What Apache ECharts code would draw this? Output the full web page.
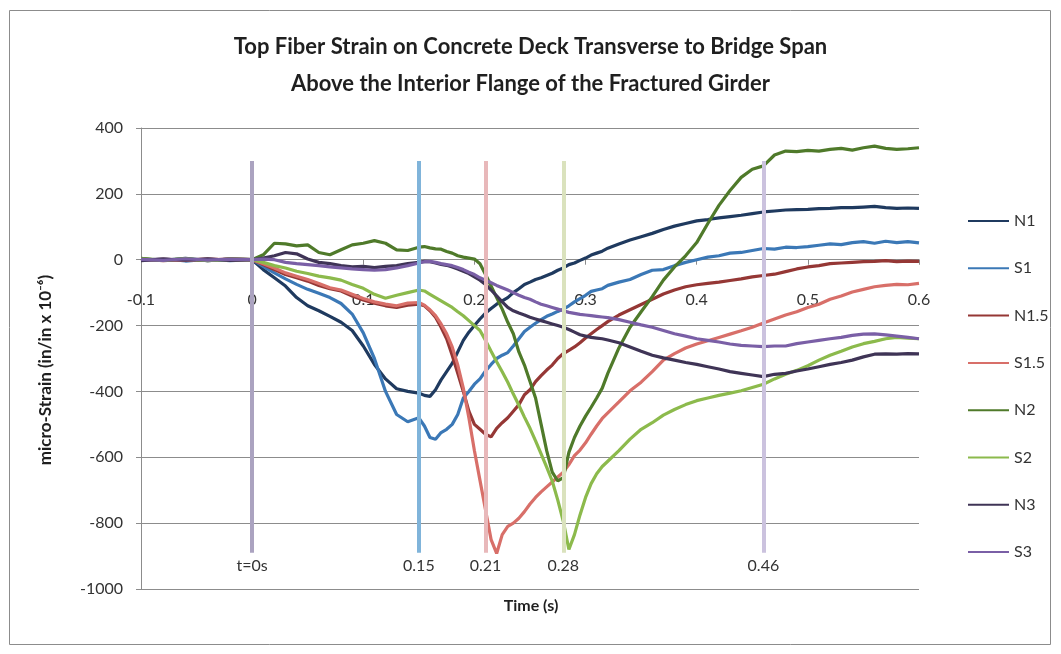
<!DOCTYPE html>
<html>
<head>
<meta charset="utf-8">
<title>Top Fiber Strain on Concrete Deck</title>
<script src="https://cdn.jsdelivr.net/npm/echarts@6/dist/echarts.min.js"></script>
<style>
  html, body { margin: 0; padding: 0; background: #ffffff; }
  #chart { width: 1061px; height: 654px; }
</style>
</head>
<body>
<div id="chart"></div>
<script>
// Sample times (s)
const time = [
  -0.1, -0.08, -0.06, -0.04, -0.02, 0,
  0.01, 0.02, 0.03, 0.04, 0.05, 0.06, 0.07, 0.08, 0.09, 0.10, 0.11, 0.12, 0.13, 0.14, 0.15,
  0.155, 0.16, 0.165, 0.17, 0.175, 0.18, 0.185, 0.19, 0.195, 0.20, 0.205, 0.21, 0.215, 0.22, 0.225,
  0.23, 0.235, 0.24, 0.245, 0.25, 0.255, 0.26, 0.265, 0.27, 0.275, 0.28, 0.285, 0.29, 0.295, 0.30,
  0.305, 0.31, 0.315, 0.32,
  0.33, 0.34, 0.35, 0.36, 0.37, 0.38, 0.39, 0.40, 0.41, 0.42, 0.43, 0.44, 0.45, 0.46, 0.47, 0.48,
  0.49, 0.50, 0.51, 0.52, 0.53, 0.54, 0.55, 0.56, 0.57, 0.58, 0.59, 0.60
];

// Micro-strain readings per gauge, one value per sample time
const N1 = [
  3, -2, 4, -3, 2, 0,
  -30, -55, -80, -115, -140, -155, -172, -190, -215, -262, -318, -362, -392, -400, -405,
  -412, -415, -395, -365, -340, -315, -280, -245, -220, -200, -180, -162, -148, -135, -125,
  -115, -100, -88, -75, -68, -60, -55, -48, -41, -32, -25, -15, -10, -2, 5, 14, 20, 26, 35,
  48, 60, 70, 80, 92, 102, 110, 118, 122, 127, 131, 135, 140, 145, 148, 151,
  152, 153, 155, 156, 158, 158, 160, 162, 158, 156, 157, 156
];
const S1 = [
  -2, 3, -4, 2, -3, 0,
  -20, -40, -58, -75, -90, -102, -115, -133, -165, -222, -300, -400, -470, -492, -480,
  -505, -540, -545, -525, -515, -500, -470, -420, -400, -378, -362, -338, -318, -300, -290,
  -282, -262, -240, -218, -205, -193, -182, -172, -165, -157, -150, -140, -128, -118, -108,
  -96, -92, -88, -78,
  -68, -60, -45, -32, -30, -18, -8, 0, 8, 12, 20, 22, 28, 34, 32, 38,
  37, 40, 44, 48, 46, 52, 55, 50, 56, 52, 55, 51
];
const N1_5 = [
  2, -3, 1, -2, 3, 0,
  -15, -30, -45, -55, -65, -78, -88, -95, -110, -122, -132, -140, -145, -138, -135,
  -140, -155, -175, -205, -240, -290, -345, -400, -460, -500, -515, -530, -538, -512, -495,
  -480, -460, -440, -410, -395, -370, -352, -335, -320, -300, -285, -275, -265, -252, -238,
  -225, -212, -200, -188,
  -168, -152, -136, -120, -104, -92, -82, -76, -72, -68, -63, -58, -52, -48, -44, -36,
  -28, -22, -18, -12, -10, -8, -6, -5, -3, -6, -4, -5
];
const S1_5 = [
  -1, 2, -2, 3, -1, 0,
  -12, -25, -40, -50, -60, -72, -85, -92, -105, -118, -128, -135, -140, -132, -130,
  -138, -152, -170, -195, -225, -265, -320, -390, -480, -580, -670, -760, -850, -892, -835,
  -810, -800, -785, -765, -742, -722, -705, -690, -675, -660, -645, -622, -595, -578, -556,
  -530, -505, -482, -465,
  -432, -398, -372, -340, -305, -285, -268, -256, -246, -236, -226, -216, -205, -192, -180, -168,
  -158, -145, -135, -120, -110, -98, -90, -82, -78, -75, -76, -72
];
const N2 = [
  4, -2, 3, -3, 2, 0,
  15, 50, 48, 42, 45, 22, 15, 30, 45, 50, 58, 50, 30, 28, 38,
  40, 36, 33, 32, 25, 20, 12, 8, 5, 2, -12, -45, -80, -115, -150,
  -190, -225, -280, -320, -370, -420, -500, -580, -645, -672, -662, -585, -540, -505, -475,
  -448, -420, -390, -345,
  -268, -205, -158, -112, -62, -22, 12, 52, 110, 165, 210, 250, 275, 285, 318, 330,
  328, 332, 330, 335, 338, 333, 340, 345, 338, 335, 337, 340
];
const S2 = [
  2, -1, 3, -2, 1, 0,
  -8, -18, -25, -35, -42, -50, -55, -62, -75, -87, -105, -117, -108, -100, -92,
  -95, -105, -115, -125, -135, -145, -158, -170, -185, -200, -215, -245, -278, -310, -340,
  -372, -408, -442, -478, -512, -550, -590, -630, -672, -730, -795, -880, -835, -775, -722,
  -680, -650, -628, -612,
  -580, -545, -515, -495, -472, -455, -440, -428, -420, -412, -405, -398, -388, -378, -362, -348,
  -336, -322, -305, -290, -278, -265, -255, -248, -240, -236, -238, -240
];
const N3 = [
  -3, 2, -1, 3, -2, 0,
  5, 12, 22, 18, 2, -8, -12, -18, -22, -20, -24, -20, -18, -12, -8,
  -5, -6, -10, -14, -17, -22, -28, -35, -42, -52, -62, -75, -92, -110, -128,
  -145, -155, -162, -168, -175, -180, -185, -190, -195, -200, -205, -212, -220, -228, -232,
  -236, -238, -240, -244,
  -252, -265, -278, -290, -298, -305, -312, -318, -325, -332, -340, -345, -350, -355, -348, -345,
  -338, -332, -325, -318, -312, -305, -295, -287, -286, -287, -285, -286
];
const S3 = [
  1, -2, 3, -1, 2, 0,
  2, 0, -8, -12, -15, -18, -22, -25, -28, -30, -32, -30, -25, -18, -10,
  -6, -5, -8, -12, -15, -18, -24, -30, -38, -45, -55, -62, -70, -78, -85,
  -92, -100, -108, -115, -120, -128, -135, -140, -145, -150, -155, -160, -163, -166, -168,
  -170, -172, -174, -176,
  -182, -190, -198, -205, -215, -225, -232, -240, -245, -250, -256, -260, -262, -264, -262, -262,
  -255, -250, -245, -240, -236, -230, -226, -225, -228, -232, -236, -240
];

const seriesNames = ['N1', 'S1', 'N1.5', 'S1.5', 'N2', 'S2', 'N3', 'S3'];
const seriesValues = [N1, S1, N1_5, S1_5, N2, S2, N3, S3];
const seriesColors = ['#1f3a5f', '#3b78b6', '#953735', '#d86f69', '#4f7a2a', '#8cba4c', '#3f3456', '#7a5fa6'];

// Event times marked with vertical lines
const markerTimes = [0, 0.15, 0.21, 0.28, 0.46];
const markerLabels = ['t=0s', '0.15', '0.21', '0.28', '0.46'];
const markerColors = ['#aba3c0', '#80b4da', '#e8b8ba', '#dae2bd', '#cbc2de'];
const markerSpan = [300, -890];

// Axis ticks
const xTicks = [-0.1, 0, 0.1, 0.2, 0.3, 0.4, 0.5, 0.6];
const yTicks = [-1000, -800, -600, -400, -200, 0, 200, 400];

const FONT = 'Lato, "Open Sans", sans-serif';
const GRID = { left: 141, right: 142, top: 128, bottom: 65 };
const gridHeight = 654 - GRID.top - GRID.bottom;
const yMin = yTicks[0];
const yMax = yTicks[yTicks.length - 1];
// The time axis runs along the zero-strain line
const xAxisLift = -(0 - yMin) / (yMax - yMin) * gridHeight;

const chart = echarts.init(document.getElementById('chart'), null, { renderer: 'canvas' });

const lineSeries = seriesNames.map((name, k) => ({
  name: name,
  type: 'line',
  symbol: 'none',
  smooth: false,
  z: 3,
  color: seriesColors[k],
  lineStyle: { width: 3.2, color: seriesColors[k] },
  data: time.map((t, i) => [t, seriesValues[k][i]])
}));

const eventSeries = {
  name: 'events',
  type: 'line',
  data: [],
  silent: true,
  z: 1,
  markLine: {
    silent: true,
    animation: false,
    symbol: ['none', 'none'],
    data: markerTimes.map((t, i) => [
      {
        coord: [t, markerSpan[0]],
        lineStyle: { color: markerColors[i], width: 4, type: 'solid' },
        label: {
          show: true,
          position: 'end',
          formatter: markerLabels[i],
          color: '#333',
          fontSize: 16,
          fontFamily: FONT,
          distance: 5
        }
      },
      { coord: [t, markerSpan[1]] }
    ])
  }
};

chart.setOption({
  animation: false,
  backgroundColor: '#ffffff',
  title: {
    text: 'Top Fiber Strain on Concrete Deck Transverse to Bridge Span\nAbove the Interior Flange of the Fractured Girder',
    left: 'center',
    top: 23,
    textStyle: {
      fontFamily: FONT,
      fontSize: 22,
      fontWeight: 'bold',
      color: '#1f1f1f',
      lineHeight: 37
    }
  },
  graphic: [
    {
      type: 'rect',
      shape: { x: 9.5, y: 10.5, width: 1041, height: 634 },
      style: { fill: null, stroke: '#8c8c8c', lineWidth: 1 },
      silent: true
    },
    {
      type: 'text',
      x: 531,
      y: 606,
      style: {
        text: 'Time (s)', fontFamily: FONT, fontSize: 16, fontWeight: 'bold', fill: '#1f1f1f',
        align: 'center', verticalAlign: 'middle'
      }
    },
    {
      type: 'text',
      x: 46,
      y: 370,
      rotation: Math.PI / 2,
      style: {
        text: 'micro-Strain (in/in x 10\u207B\u2076)',
        fontFamily: FONT,
        fontSize: 17,
        fontWeight: 'bold',
        fill: '#1f1f1f',
        align: 'center',
        verticalAlign: 'middle'
      }
    }
  ],
  legend: {
    orient: 'vertical',
    left: 962,
    top: 208,
    itemWidth: 41,
    itemHeight: 14,
    itemGap: 31.3,
    data: seriesNames,
    itemStyle: { opacity: 0 },
    textStyle: { fontFamily: FONT, fontSize: 16, color: '#333' }
  },
  grid: { left: GRID.left, right: GRID.right, top: GRID.top, bottom: GRID.bottom, containLabel: false },
  xAxis: {
    type: 'value',
    min: xTicks[0],
    max: xTicks[xTicks.length - 1],
    interval: 0.1,
    offset: xAxisLift,
    axisLine: { onZero: false, lineStyle: { color: '#8c8c8c', width: 1 } },
    axisTick: { show: true, length: 5, lineStyle: { color: '#8c8c8c' } },
    splitLine: { show: false },
    axisLabel: {
      margin: 32,
      fontFamily: FONT,
      fontSize: 16,
      color: '#333',
      formatter: v => String(Math.round(v * 10) / 10)
    }
  },
  yAxis: {
    type: 'value',
    min: yMin,
    max: yMax,
    interval: 200,
    axisLine: { show: true, onZero: false, lineStyle: { color: '#8c8c8c', width: 1 } },
    axisTick: { show: true, length: 5, lineStyle: { color: '#8c8c8c' } },
    splitLine: { show: true, lineStyle: { color: '#8c8c8c', width: 1 } },
    axisLabel: { margin: 18, fontFamily: FONT, fontSize: 16, color: '#333', formatter: v => String(v) }
  },
  series: [eventSeries].concat(lineSeries)
});
</script>
</body>
</html>
